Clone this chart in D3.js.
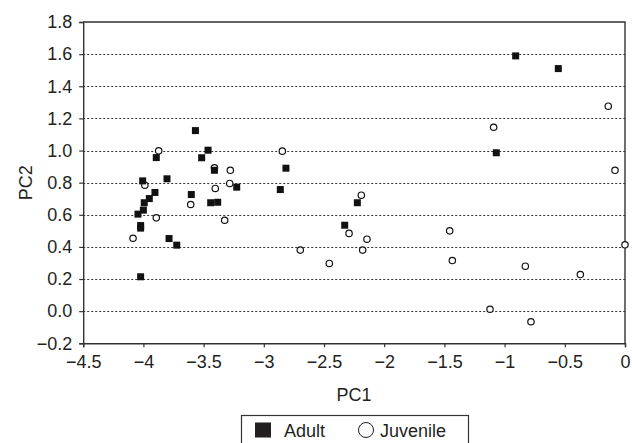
<!DOCTYPE html>
<html>
<head>
<meta charset="utf-8">
<script src="https://d3js.org/d3.v7.min.js"></script>
<style>
  body { margin: 0; background: #fff; }
  text { font-family: "Liberation Sans", Arial, sans-serif; fill: #231f20; }
</style>
</head>
<body>
<div id="chart"></div>
<script>
// DATA
var adultPC1 = [-3.568, -3.893, -3.463, -3.516, -3.41, -4.006, -3.804, -3.602, -3.904, -3.951,
                -3.993, -4.0, -4.045, -4.023, -4.023, -3.787, -3.723, -4.023, -3.441, -3.383,
                -3.225, -2.816, -2.863, -2.328, -2.223, -0.908, -0.554, -1.069];
var adultPC2 = [1.124, 0.956, 1.002, 0.955, 0.877, 0.811, 0.824, 0.726, 0.739, 0.701,
                0.675, 0.629, 0.604, 0.533, 0.517, 0.452, 0.411, 0.214, 0.675, 0.678,
                0.772, 0.89, 0.757, 0.535, 0.675, 1.589, 1.51, 0.986];
var juvPC1 = [-3.873, -3.41, -3.988, -3.403, -3.893, -4.086, -3.607, -3.278, -3.283, -2.846,
              -2.19, -3.325, -2.697, -2.456, -2.292, -2.143, -2.179, -0.139, -1.091, -0.083,
              -1.456, -1.434, -0.828, -0.371, 0, -1.121, -0.781];
var juvPC2 = [0.998, 0.892, 0.784, 0.764, 0.581, 0.454, 0.664, 0.877, 0.795, 0.996,
              0.722, 0.566, 0.38, 0.297, 0.484, 0.448, 0.38, 1.276, 1.145, 0.877,
              0.5, 0.315, 0.28, 0.228, 0.413, 0.012, -0.066];
var xTicks = [-4.5, -4, -3.5, -3, -2.5, -2, -1.5, -1, -0.5, 0];
var yTicks = [-0.2, 0, 0.2, 0.4, 0.6, 0.8, 1.0, 1.2, 1.4, 1.6, 1.8];
var seriesNames = ["Adult", "Juvenile"];

var width = 632,
    height = 443;

var svg = d3.select("#chart").append("svg")
    .attr("width", width)
    .attr("height", height);

var x = d3.scaleLinear().domain([-4.5, 0]).range([83.2, 625]);
var y = d3.scaleLinear().domain([-0.2, 1.8]).range([343.3, 22]);

var axisColor = "#333",
    fontSize = 18;

// GRID (dotted, inside the frame)
svg.append("g")
    .attr("class", "grid")
    .selectAll("line")
    .data(yTicks.slice(1, -1))
    .enter()
    .append("line")
    .attr("x1", x(-4.5))
    .attr("x2", x(0))
    .attr("y1", function(d) { return Math.round(y(d)) + 0.5; })
    .attr("y2", function(d) { return Math.round(y(d)) + 0.5; })
    .attr("stroke", "#333")
    .attr("stroke-width", 1)
    .attr("stroke-dasharray", "2,2");

// AXES
var fmtX = function(d) { return d === 0 ? "0" : d3.format("")(d); };
var fmtY = d3.format(".1f");

var xAxis = svg.append("g")
    .attr("transform", "translate(0," + y(-0.2) + ")")
    .call(d3.axisBottom(x).tickValues(xTicks).tickFormat(fmtX).tickSize(4).tickPadding(8));

var yAxis = svg.append("g")
    .attr("transform", "translate(" + x(-4.5) + ",0)")
    .call(d3.axisLeft(y).tickValues(yTicks).tickFormat(fmtY).tickSize(4).tickPadding(7));

[xAxis, yAxis].forEach(function(a) {
    a.attr("font-family", null).attr("font-size", null);
    a.select(".domain").attr("stroke", axisColor).attr("stroke-width", 1.4);
    a.selectAll(".tick line").attr("stroke", axisColor).attr("stroke-width", 1.2);
    a.selectAll(".tick text")
        .attr("font-size", fontSize)
        .attr("fill", "#231f20");
});

// top + right frame
svg.append("path")
    .attr("d", "M" + x(-4.5) + "," + y(1.8) + "H" + x(0) + "V" + y(-0.2))
    .attr("fill", "none")
    .attr("stroke", axisColor)
    .attr("stroke-width", 1.4);

// AXIS TITLES
svg.append("text")
    .attr("x", x(-2.25))
    .attr("y", 401)
    .attr("text-anchor", "middle")
    .attr("font-size", fontSize)
    .text("PC1");

svg.append("text")
    .attr("transform", "translate(32," + y(0.8) + ") rotate(-90)")
    .attr("text-anchor", "middle")
    .attr("font-size", fontSize)
    .text("PC2");

// POINTS
var adult = d3.zip(adultPC1, adultPC2),
    juv = d3.zip(juvPC1, juvPC2);

svg.append("g")
    .attr("class", "juvenile")
    .selectAll("circle")
    .data(juv)
    .enter()
    .append("circle")
    .attr("cx", function(d) { return x(d[0]); })
    .attr("cy", function(d) { return y(d[1]); })
    .attr("r", 3.2)
    .attr("fill", "#fff")
    .attr("stroke", "#111")
    .attr("stroke-width", 1.2);

svg.append("g")
    .attr("class", "adult")
    .selectAll("rect")
    .data(adult)
    .enter()
    .append("rect")
    .attr("x", function(d) { return x(d[0]) - 3.5; })
    .attr("y", function(d) { return y(d[1]) - 3.5; })
    .attr("width", 7)
    .attr("height", 7)
    .attr("fill", "#111");

// LEGEND
var legend = svg.append("g").attr("class", "legend");

legend.append("rect")
    .attr("x", 241.5)
    .attr("y", 415.5)
    .attr("width", 227)
    .attr("height", 32)
    .attr("fill", "#fff")
    .attr("stroke", "#333")
    .attr("stroke-width", 1.2);

legend.append("rect")
    .attr("x", 255)
    .attr("y", 422.5)
    .attr("width", 16)
    .attr("height", 15)
    .attr("fill", "#231f20");

legend.append("text")
    .attr("x", 284)
    .attr("y", 437)
    .attr("font-size", fontSize)
    .text(seriesNames[0]);

legend.append("circle")
    .attr("cx", 366)
    .attr("cy", 430)
    .attr("r", 7.5)
    .attr("fill", "#fff")
    .attr("stroke", "#231f20")
    .attr("stroke-width", 1);

legend.append("text")
    .attr("x", 380)
    .attr("y", 437)
    .attr("font-size", fontSize)
    .text(seriesNames[1]);
</script>
</body>
</html>
